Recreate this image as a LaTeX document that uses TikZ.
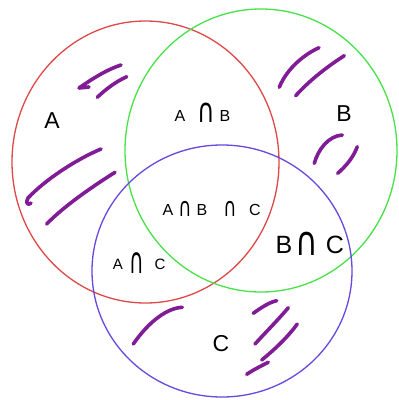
\documentclass[tikz,border=0pt]{standalone}
\usepackage{graphicx}
\usepackage{fontspec}
\setmainfont{Liberation Sans}
\newfontfamily\symf{DejaVu Sans}
\usetikzlibrary{shapes.geometric}
\definecolor{cred}{RGB}{222,72,72}
\definecolor{cgreen}{RGB}{72,226,72}
\definecolor{cblue}{RGB}{104,72,222}
\definecolor{cink}{RGB}{128,28,150}
\newcommand\fs[1]{\fontsize{#1}{#1}\selectfont}
\newcommand\gl[1]{\makebox[0pt][c]{#1}}
% #1 font size, #2 vertical stretch, #3 lowering
\newcommand\icap[3]{\gl{\raisebox{-#3}{\scalebox{1}[#2]{\symf\fs{#1}∩}}}}
\begin{document}
\begin{tikzpicture}[x=1pt,y=-1pt,
  setc/.style={ellipse,draw,line width=1.3pt,inner sep=0pt},
  ink/.style={cink,line width=3.6pt,line cap=round,line join=round},
  lbl/.style={inner sep=0pt,anchor=base,text=black}]
\fill[white] (0,0) rectangle (399,400);
\useasboundingbox (0,0) rectangle (399,400);
% sets
\node[setc,cred,minimum width=267pt,minimum height=282pt] (setA) at (145.5,162) {};
\node[setc,cgreen,minimum width=272pt,minimum height=283pt] (setB) at (261,150.5) {};
\node[setc,cblue,minimum width=260pt,minimum height=252pt] (setC) at (222,271) {};
% labels
\node[lbl] (lA) at (52,128.3) {\fs{23}A};
\node[lbl] (lB) at (344,121.7) {\fs{23}B};
\node[lbl] (lC) at (221,351.7) {\fs{23}C};
\node[lbl] (lAB) at (202.5,121) {\fs{16}\gl{A}\hspace{26pt}\icap{24}{1.4}{1.3pt}\hspace{19pt}\gl{B}};
\node[lbl] (lABC) at (211.5,215) {\fs{16}\gl{A}\hspace{17pt}\icap{18}{1.45}{1pt}\hspace{17pt}\gl{B}\hspace{28pt}\icap{18}{1.45}{1pt}\hspace{25pt}\gl{C}};
\node[lbl] (lAC) at (139,269.3) {\fs{15}\gl{A}\hspace{19pt}\icap{20}{1.8}{4pt}\hspace{23pt}\gl{C}};
\node[lbl] (lBC) at (309.5,253.3) {\fs{25}\gl{B}\hspace{23pt}\icap{31}{1.3}{1.7pt}\hspace{28pt}\gl{C}};
% hatch strokes
\draw[ink] (121,65) .. controls (106,70) and (92,79) .. (79,88) -- (89,87);
\draw[ink] (126.7,76.7) .. controls (115,82) and (105,90) .. (97.3,97.3);
\draw[ink] (101,149) .. controls (75,160) and (45,180) .. (28,198) .. controls (25,203) and (28,206) .. (31,203);
\draw[ink] (115,172.3) .. controls (95,185) and (65,205) .. (46.7,224);
\draw[ink] (319,47.7) .. controls (305,54) and (287,68) .. (279.3,87.3);
\draw[ink] (344.3,55.7) .. controls (325,68) and (308,82) .. (295.7,95.7);
\draw[ink] (342.3,135) .. controls (328,136) and (318,150) .. (314.3,163.3);
\draw[ink] (357.3,146.7) .. controls (353,158) and (346,166) .. (337.7,173.3);
\draw[ink] (182.3,307.3) .. controls (168,308) and (150,320) .. (133.3,344);
\draw[ink] (253.3,313.3) .. controls (262,307) and (270,302) .. (276.7,300.7);
\draw[ink] (288.3,307.7) .. controls (278,320) and (265,333) .. (255,344);
\draw[ink] (297.3,324) .. controls (287,338) and (274,350) .. (261.7,360);
\draw[ink] (268.3,362.3) .. controls (261,366) and (253,370) .. (246.7,374.3);
\end{tikzpicture}
\end{document}
